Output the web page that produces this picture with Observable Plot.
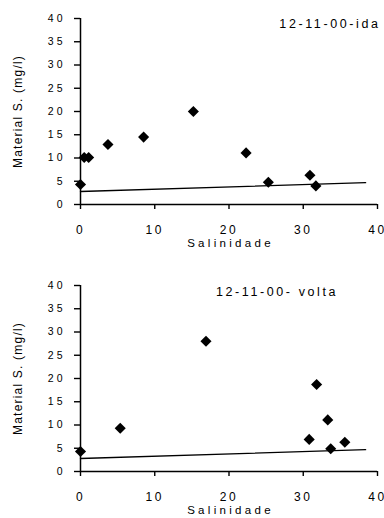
<!DOCTYPE html>
<html>
<head>
<meta charset="utf-8">
<script src="https://cdn.jsdelivr.net/npm/d3@7"></script>
<script src="https://cdn.jsdelivr.net/npm/@observablehq/plot@0.6"></script>
<style>
  html, body { margin: 0; padding: 0; background: #fff; }
  #chart { width: 384px; }
  #chart svg { display: block; }
  g[aria-label="y-axis tick label"] text { letter-spacing: 3px; font-size: 10.5px; }
  g[aria-label="x-axis tick label"] text { letter-spacing: 2.5px; font-size: 12px; }
</style>
</head>
<body>
<div id="chart"></div>
<script>
// ---- data ----
const titleIda = "12-11-00-ida";
const titleVolta = "12-11-00- volta";
const xLabel = "Salinidade";
const yLabel = "Material S. (mg/l)";
const xTicks = [0, 10, 20, 30, 40];
const yTicks = [0, 5, 10, 15, 20, 25, 30, 35, 40];

const idaSal = [0, 0.5, 1.1, 3.7, 8.5, 15.2, 22.3, 25.3, 30.9, 31.7];
const idaMat = [4.3, 10.1, 10.1, 12.9, 14.5, 20.0, 11.1, 4.8, 6.3, 4.0];

const voltaSal = [0, 5.35, 16.9, 30.8, 31.8, 33.3, 33.7, 35.6];
const voltaMat = [4.3, 9.3, 28.0, 6.9, 18.7, 11.1, 4.9, 6.3];

const lineSal = [0, 38.4];
const lineMat = [2.8, 4.7];

// ---- chart builder ----
function panel(sal, mat, title, opts) {
  const pts = sal.map((s, i) => ({x: s, y: mat[i]}));
  const ln = lineSal.map((s, i) => ({x: s, y: lineMat[i]}));
  const svg = Plot.plot({
    width: 384,
    height: 259,
    marginLeft: 80,
    marginRight: 7,
    marginTop: opts.top,
    marginBottom: opts.bottom,
    style: {fontFamily: "'Liberation Sans', Arial, sans-serif", fontSize: "11px", color: "#000", background: "#fff"},
    x: {domain: [0, 40]},
    y: {domain: [0, 40]},
    marks: [
      Plot.axisY({ticks: yTicks, tickSize: 6, tickPadding: 9, label: null, strokeWidth: 1.4}),
      Plot.axisX({ticks: xTicks, tickSize: 5, tickPadding: 16, label: null, strokeWidth: 1.4}),
      Plot.ruleX([0], {stroke: "#000", strokeWidth: 1.5}),
      Plot.ruleY([0], {stroke: "#000", strokeWidth: 1.5}),
      Plot.line(ln, {x: "x", y: "y", stroke: "#000", strokeWidth: 1.3}),
      Plot.dot(pts, {x: "x", y: "y", symbol: "diamond2", r: 5, fill: "#000", stroke: null}),
      Plot.text([title], {frameAnchor: opts.titleAnchor, textAnchor: opts.titleTextAnchor, dx: opts.titleDx, dy: opts.titleDy, fontSize: 12.5, fill: "#000", lineAnchor: "middle"}),
      Plot.text([xLabel], {frameAnchor: "bottom", dy: 39, dx: 1.5, fontSize: 11.5, fill: "#000", lineAnchor: "middle"}),
      Plot.text([yLabel], {frameAnchor: "left", dx: -62, rotate: -90, textAnchor: "middle", fontSize: 12, fill: "#000", lineAnchor: "middle"})
    ]
  });
  const spacing = {[title]: "2.6px", [xLabel]: "3.3px", [yLabel]: "1.2px"};
  d3.select(svg).selectAll("text").each(function () {
    const t = this.textContent;
    if (spacing[t]) d3.select(this).style("letter-spacing", spacing[t]);
  });
  return svg;
}

const el = document.getElementById("chart");
el.append(panel(idaSal, idaMat, titleIda, {top: 18, bottom: 55, titleAnchor: "top-right", titleTextAnchor: "end", titleDx: 3, titleDy: 5}));
el.append(panel(voltaSal, voltaMat, titleVolta, {top: 26, bottom: 47, titleAnchor: "top", titleTextAnchor: "middle", titleDx: 48, titleDy: 6}));
</script>
</body>
</html>
